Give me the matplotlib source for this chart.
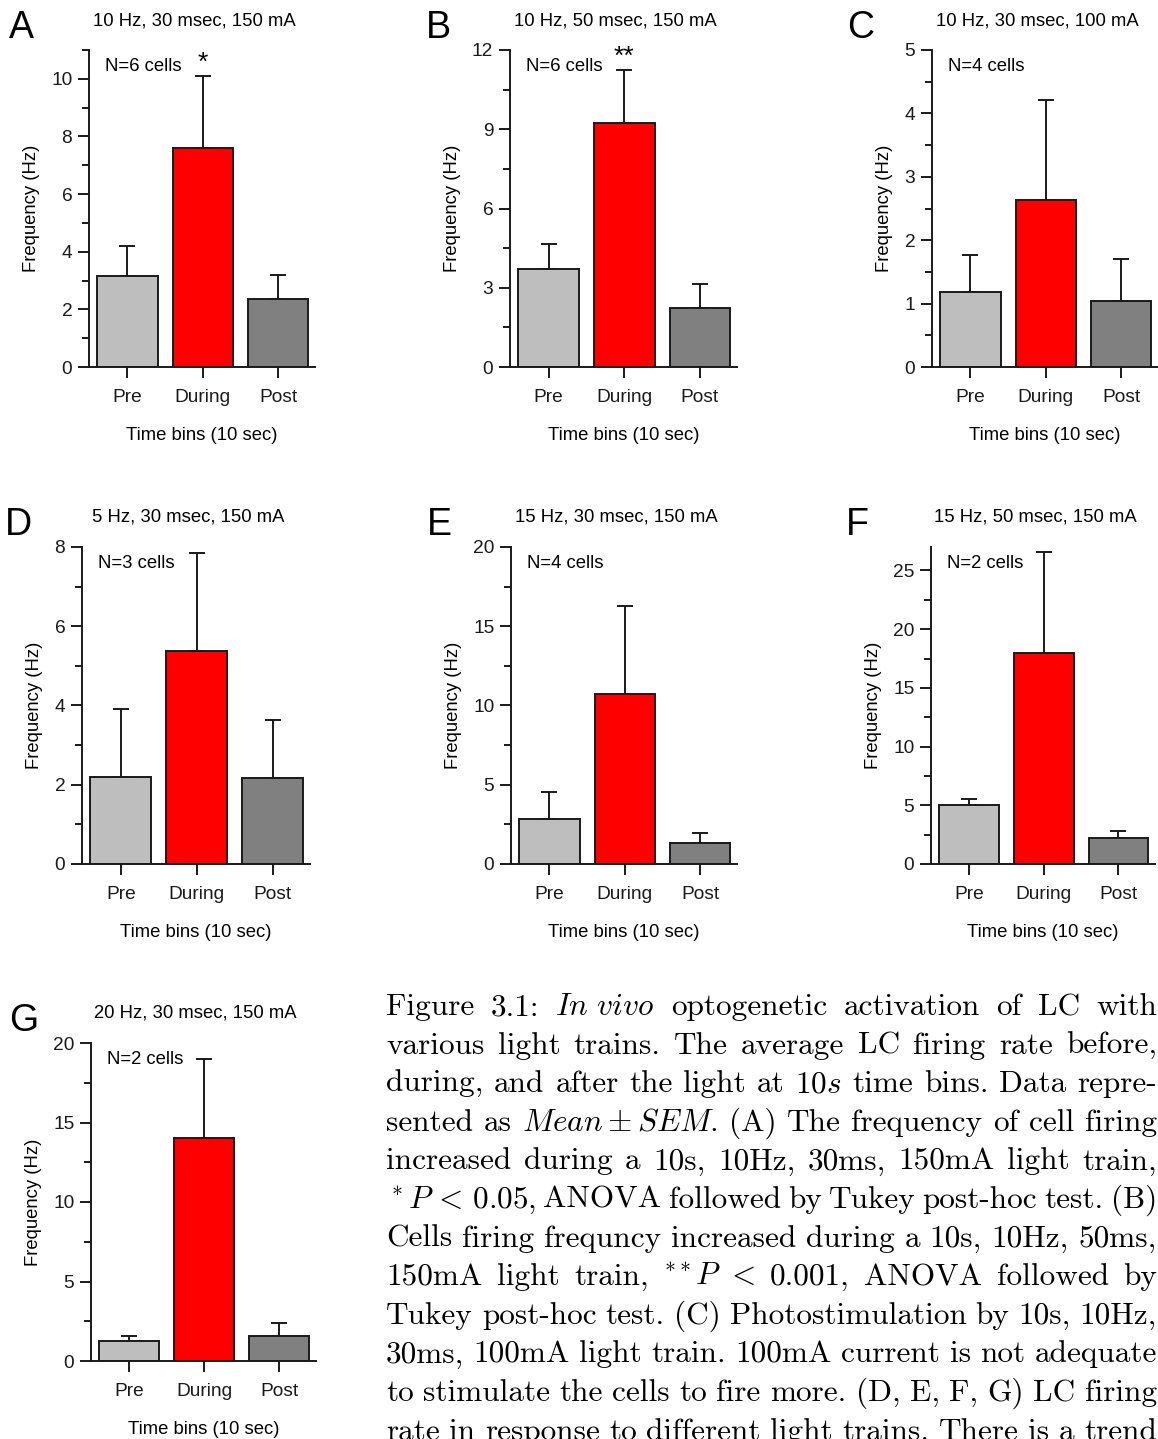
import re
import numpy as np
import matplotlib
matplotlib.use('Agg')
import matplotlib.pyplot as plt
from matplotlib.ticker import MultipleLocator

plt.rcParams['font.family'] = ['Liberation Sans', 'DejaVu Sans']
plt.rcParams['mathtext.fontset'] = 'cm'

W, H = 1158, 1439

# data
cats = ['Pre', 'During', 'Post']
panel_letters = ['A', 'B', 'C', 'D', 'E', 'F', 'G']
titles = ['10 Hz, 30 msec, 150 mA', '10 Hz, 50 msec, 150 mA', '10 Hz, 30 msec, 100 mA',
          '5 Hz, 30 msec, 150 mA', '15 Hz, 30 msec, 150 mA', '15 Hz, 50 msec, 150 mA',
          '20 Hz, 30 msec, 150 mA']
n_cells = [6, 6, 4, 3, 4, 2, 2]
stars = ['*', '**', '', '', '', '', '']

mean_A = [3.15, 7.61, 2.35]
sem_A = [1.04, 2.49, 0.83]
mean_B = [3.70, 9.25, 2.23]
sem_B = [0.94, 2.00, 0.90]
mean_C = [1.19, 2.64, 1.04]
sem_C = [0.57, 1.57, 0.67]
mean_D = [2.20, 5.38, 2.17]
sem_D = [1.71, 2.47, 1.47]
mean_E = [2.83, 10.75, 1.32]
sem_E = [1.70, 5.54, 0.63]
mean_F = [5.00, 17.95, 2.20]
sem_F = [0.55, 8.65, 0.60]
mean_G = [1.26, 14.05, 1.58]
sem_G = [0.33, 4.95, 0.82]

means = [mean_A, mean_B, mean_C, mean_D, mean_E, mean_F, mean_G]
sems = [sem_A, sem_B, sem_C, sem_D, sem_E, sem_F, sem_G]

y_max = [11, 12, 5, 8, 20, 27, 20]
y_major = [2, 3, 1, 2, 5, 5, 5]

bar_colors = ['#bebebe', '#ff0000', '#808080']

caption = [
    r"Figure 3.1:  $\mathit{In\ vivo}$ optogenetic activation of LC with",
    r"various light trains.  The average LC firing rate before,",
    r"during, and after the light at 10$s$ time bins. Data repre-",
    r"sented as $Mean \pm SEM$. (A) The frequency of cell firing",
    r"increased during a 10s, 10Hz, 30ms, 150mA light train,",
    r"${}^*P\,<\,0.05$, ANOVA followed by Tukey post-hoc test. (B)",
    r"Cells firing frequncy increased during a 10s, 10Hz, 50ms,",
    r"150mA light train, ${}^{**}P$ $<$ 0.001, ANOVA followed by",
    r"Tukey post-hoc test. (C) Photostimulation by 10s, 10Hz,",
    r"30ms, 100mA light train. 100mA current is not adequate",
    r"to stimulate the cells to fire more. (D, E, F, G) LC firing",
    r"rate in response to different light trains. There is a trend",
]

# axes boxes in pixels: left, right, top, bottom
boxes = [(89, 315, 50, 367), (510, 737, 50, 367), (932, 1158, 50, 367),
         (82, 310, 547, 864), (511, 737, 547, 864), (931, 1155, 547, 864),
         (91, 316, 1043, 1361)]
letter_pos = [(9, 38), (426, 38), (847, 38), (5, 535), (427, 535), (846, 535), (9, 1031)]

fig = plt.figure(figsize=(W / 100, H / 100), dpi=100)

for i in range(7):
    l, r, t, b = boxes[i]
    ax = fig.add_axes([l / W, 1 - b / H, (r - l) / W, (b - t) / H])
    x = np.arange(3)
    ax.bar(x, means[i], width=0.8, color=bar_colors, edgecolor='#1a1a1a', linewidth=1.4, zorder=2)
    ax.errorbar(x, means[i], yerr=[np.zeros(3), sems[i]], fmt='none', ecolor='#1a1a1a',
                elinewidth=1.4, capsize=6, capthick=1.4, zorder=1)
    ax.set_xlim(-0.51, 2.49)
    ax.set_ylim(0, y_max[i])
    ax.yaxis.set_major_locator(MultipleLocator(y_major[i]))
    ax.yaxis.set_minor_locator(MultipleLocator(y_major[i] / 2))
    ax.set_xticks(x)
    ax.set_xticklabels(cats)
    for s in ['top', 'right']:
        ax.spines[s].set_visible(False)
    for s in ['left', 'bottom']:
        ax.spines[s].set_linewidth(1.4)
        ax.spines[s].set_color('#1a1a1a')
    ax.tick_params(axis='both', which='major', length=8, width=1.4, labelsize=13.8, colors='#1a1a1a', pad=4)
    ax.tick_params(axis='y', which='minor', length=5, width=1.4, colors='#1a1a1a')
    ax.tick_params(axis='x', pad=8)
    ax.set_ylabel('Frequency (Hz)', fontsize=13.3, labelpad=8)
    ax.set_xlabel('Time bins (10 sec)', fontsize=13.3, labelpad=15)
    ax.text(0.07, 0.947, f'N={n_cells[i]} cells', transform=ax.transAxes, fontsize=13.3,
            ha='left', va='center')
    if stars[i]:
        ax.annotate(stars[i], (1, means[i][1] + sems[i][1]), xytext=(0, 1),
                    textcoords='offset points', ha='center', va='bottom', fontsize=19)
    fig.text(((l + r) / 2 - 8) / W, 1 - (t - 25) / H, titles[i], ha='center', va='baseline', fontsize=13.3)
    lx, ly = letter_pos[i]
    fig.text(lx / W, 1 - ly / H, panel_letters[i], ha='left', va='baseline', fontsize=27)

# justified caption
renderer = fig.canvas.get_renderer()
cap_left, cap_right = 386, 1157
base0, step = 1015, 38.6
cap_size = 22.5
for k, line in enumerate(caption):
    tokens = re.findall(r'\S*\$[^$]*\$\S*|\S+', line)
    y = 1 - (base0 + k * step) / H
    texts = [fig.text(0, y, tok, fontsize=cap_size, fontfamily='cmr10', ha='left', va='baseline')
             for tok in tokens]
    widths = [t.get_window_extent(renderer).width for t in texts]
    gap = (cap_right - cap_left - sum(widths)) / (len(tokens) - 1)
    xpos = cap_left
    for t, w in zip(texts, widths):
        t.set_x(xpos / W)
        xpos += w + gap

fig.savefig('out.png', dpi=100)
